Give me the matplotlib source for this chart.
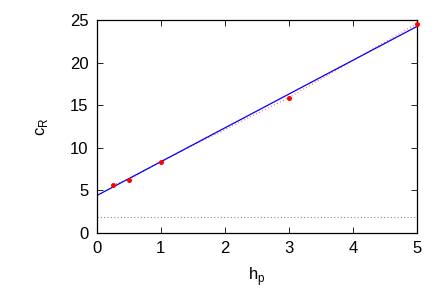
import matplotlib
matplotlib.use("Agg")
import matplotlib.pyplot as plt
import numpy as np

plt.rcParams['font.family'] = ['Liberation Sans', 'DejaVu Sans']

h_p = [0.25, 0.5, 1.0, 3.0, 5.0]
c_R = [5.65, 6.28, 8.38, 15.9, 24.6]
fit_intercept = 4.4
fit_slope = 3.97
baseline = 1.85

fig = plt.figure(figsize=(4.36, 3.05), dpi=100)
ax = fig.add_axes([0.222, 0.236, 0.734, 0.698])

ax.axhline(baseline, color='#888888', lw=0.8, ls=(0, (1, 2)))
ax.plot(h_p, c_R, color='#ff6666', lw=0.8, ls=(0, (1, 2)))
xf = np.array([0, 5])
ax.plot(xf, fit_intercept + fit_slope * xf, color='#0000ff', lw=0.9)
ax.plot(h_p, c_R, 'o', color='#ff0000', ms=3.6, mec='none', clip_on=False, zorder=5)

ax.set_xlim(0, 5)
ax.set_ylim(0, 25)
ax.set_xticks([0, 1, 2, 3, 4, 5])
ax.set_yticks([0, 5, 10, 15, 20, 25])
ax.tick_params(direction='in', top=True, right=True, labelsize=12, length=4, width=0.6, pad=6)
for s in ax.spines.values():
    s.set_linewidth(0.9)
ax.set_xlabel(r'h$_\mathregular{p}$', fontsize=12, labelpad=6)
ax.set_ylabel(r'c$_\mathregular{R}$', fontsize=12, labelpad=14)

fig.savefig('out.png', dpi=100)
